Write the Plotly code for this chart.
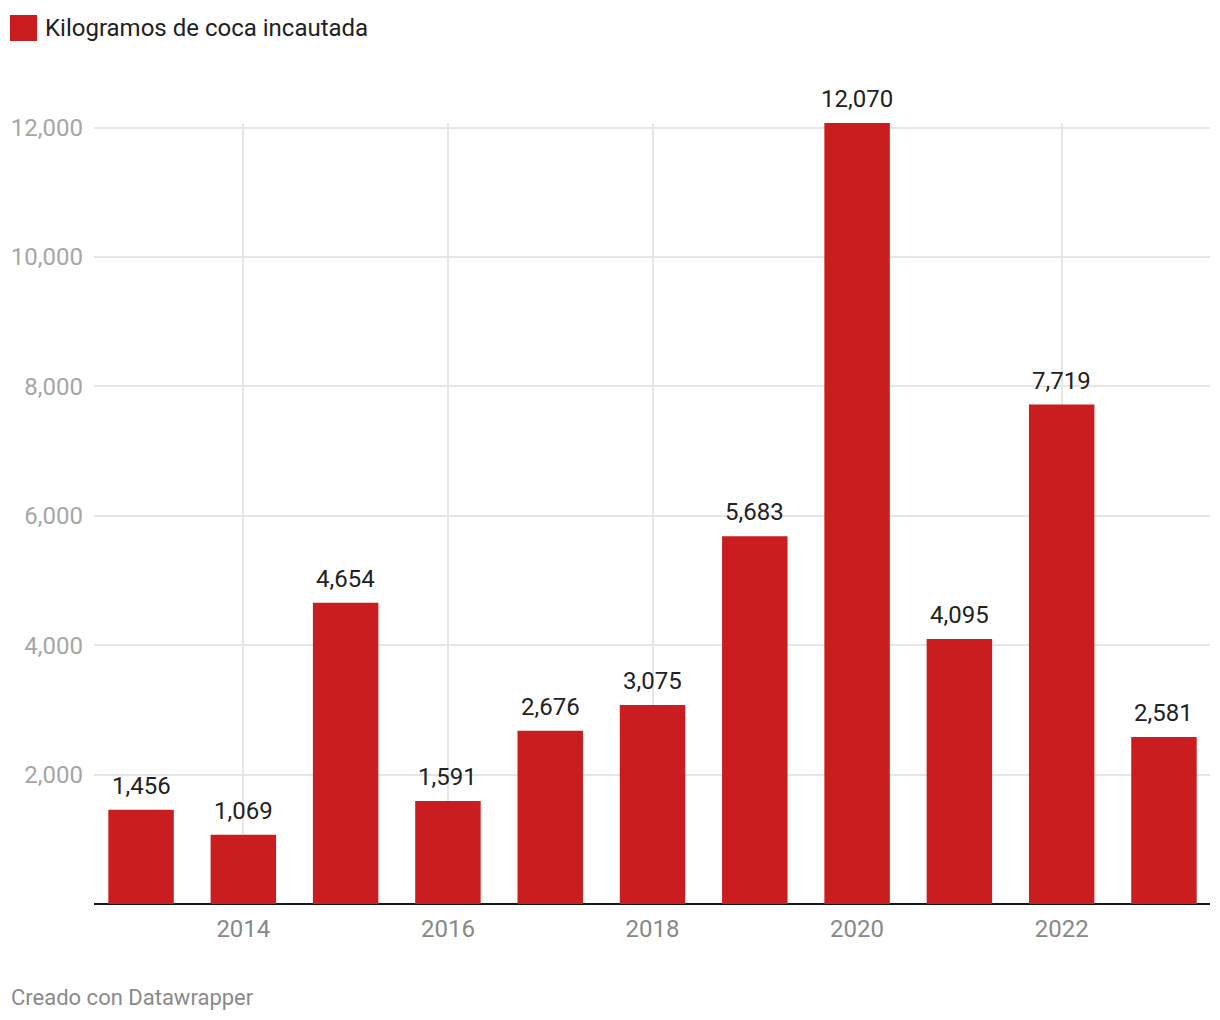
import plotly.graph_objects as go

years = [2013, 2014, 2015, 2016, 2017, 2018, 2019, 2020, 2021, 2022, 2023]
kilos = [1456, 1069, 4654, 1591, 2676, 3075, 5683, 12070, 4095, 7719, 2581]
y_ticks = [2000, 4000, 6000, 8000, 10000, 12000]
x_ticks = [2014, 2016, 2018, 2020, 2022]
series_name = "Kilogramos de coca incautada"
footer = "Creado con Datawrapper"

W, H = 1220, 1020
ML, MR, MT, MB = 94, 10, 123, 116
PW = W - ML - MR
PH = H - MT - MB

def px_x(x):
    return (x - ML) / PW

def px_y(y):
    return (H - MB - y) / PH

RED = "#c91d1f"
FONT = "Roboto"

fig = go.Figure()
fig.add_trace(go.Bar(
    x=years, y=kilos, width=0.64, marker_color=RED, marker_line_width=0,
    name=series_name, showlegend=False, hoverinfo="x+y",
))

for xv, yv in zip(years, kilos):
    fig.add_annotation(
        x=xv, y=yv, xref="x", yref="y", text=f"{yv:,}", showarrow=False,
        yanchor="bottom", yshift=8, font=dict(family=FONT, size=24, color="#222222"),
    )

# legend
fig.add_shape(type="rect", xref="paper", yref="paper",
              x0=px_x(10), x1=px_x(37), y0=px_y(41), y1=px_y(15),
              fillcolor=RED, line_width=0)
fig.add_annotation(xref="paper", yref="paper", x=px_x(43), y=px_y(28),
                   xanchor="left", yanchor="middle", text=series_name, showarrow=False,
                   font=dict(family=FONT, size=24, color="#222222"))
fig.add_annotation(xref="paper", yref="paper", x=px_x(9), y=px_y(997),
                   xanchor="left", yanchor="middle", text=footer, showarrow=False,
                   font=dict(family=FONT, size=22, color="#8a8a8a"))

fig.update_layout(
    width=W, height=H, margin=dict(l=ML, r=MR, t=MT, b=MB),
    paper_bgcolor="white", plot_bgcolor="white",
    font=dict(family=FONT), separators=".,",
    bargap=0.36,
)
fig.update_xaxes(
    range=[2012.54, 2023.45], tickvals=x_ticks, ticktext=[str(t) for t in x_ticks],
    showgrid=True, gridcolor="#e6e6e6", gridwidth=2, zeroline=False,
    tickfont=dict(family=FONT, size=24, color="#888888"), ticks="",
    ticklabelstandoff=8, showline=False, fixedrange=True,
)
fig.update_yaxes(
    range=[0, 12070], tickvals=y_ticks, tickformat=",",
    showgrid=True, gridcolor="#e6e6e6", gridwidth=2,
    zeroline=True, zerolinecolor="#1a1a1a", zerolinewidth=2,
    tickfont=dict(family=FONT, size=24, color="#a6a6a6"), ticks="",
    ticklabelstandoff=10, showline=False, fixedrange=True,
)

fig.write_html("out.html", config={"displayModeBar": False},
               post_script="document.body.style.margin='0';")
